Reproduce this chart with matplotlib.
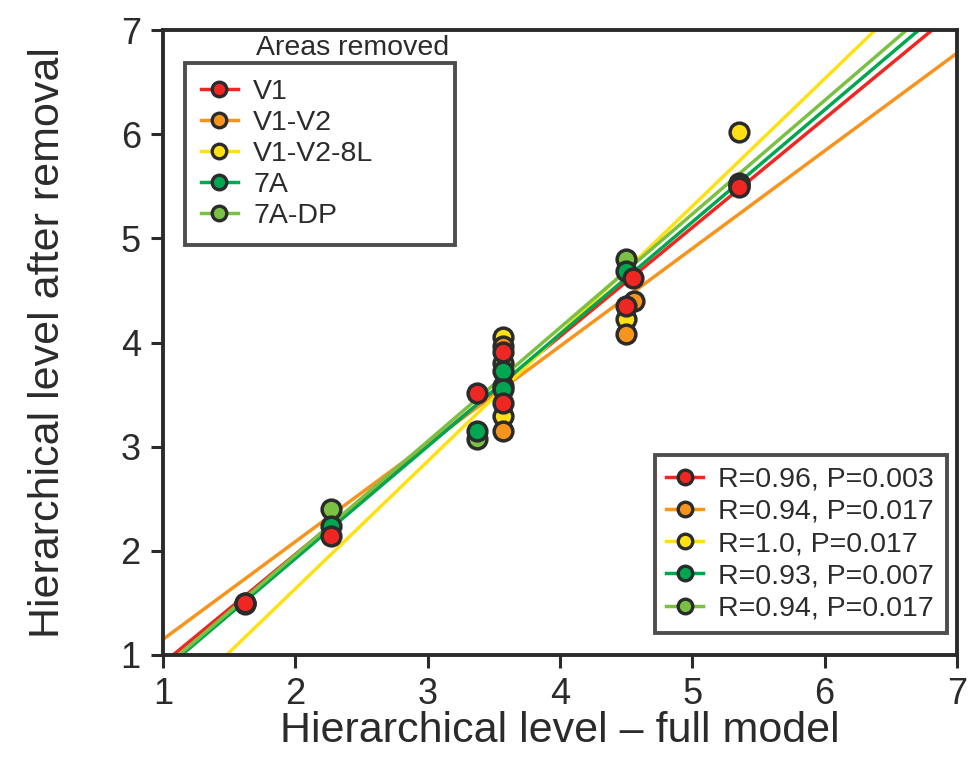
import matplotlib.pyplot as plt
from matplotlib.lines import Line2D
import numpy as np

plt.rcParams['font.family'] = ['Liberation Sans', 'DejaVu Sans']

# series: areas removed
names = ["V1", "V1-V2", "V1-V2-8L", "7A", "7A-DP"]
stats = ["R=0.96, P=0.003", "R=0.94, P=0.017", "R=1.0, P=0.017",
         "R=0.93, P=0.007", "R=0.94, P=0.017"]
colors = ["#ee2722", "#f7941d", "#ffe113", "#00a650", "#7ac143"]

# hierarchical level, full model (x) vs after removal (y)
x_v1 = [1.62, 2.27, 3.37, 3.57, 3.57, 4.50, 4.55, 5.35]
y_v1 = [1.50, 2.14, 3.52, 3.91, 3.42, 4.35, 4.62, 5.49]
x_v1v2 = [3.57, 3.57, 4.50, 4.56, 5.35]
y_v1v2 = [3.97, 3.15, 4.08, 4.40, 5.50]
x_v1v28l = [3.57, 3.57, 4.50, 5.35]
y_v1v28l = [4.05, 3.29, 4.23, 6.02]
x_7a = [1.62, 2.27, 3.37, 3.57, 3.57, 4.50, 5.35]
y_7a = [1.49, 2.24, 3.15, 3.73, 3.55, 4.69, 5.52]
x_7adp = [1.62, 2.27, 3.37, 3.57, 3.57, 4.50, 5.35]
y_7adp = [1.50, 2.40, 3.07, 3.80, 3.58, 4.80, 5.53]

# regression lines (slope, intercept)
slopes = [1.046, 0.938, 1.224, 1.077, 1.091]
intercepts = [-0.126, 0.212, -0.812, -0.228, -0.222]

xs = [x_v1, x_v1v2, x_v1v28l, x_7a, x_7adp]
ys = [y_v1, y_v1v2, y_v1v28l, y_7a, y_7adp]

edge = "#2b2b2b"

fig = plt.figure(figsize=(9.7, 7.58), dpi=100)
ax = fig.add_axes([163 / 970, 1 - 655 / 758, 794 / 970, 625 / 758])

xl = np.array([0.0, 8.0])
for i in range(5):
    ax.plot(xl, slopes[i] * xl + intercepts[i], color=colors[i], lw=2.5, zorder=2)

# drawing order so overlaps look like the original
order = [2, 4, 3, 1, 0]
for k, i in enumerate(order):
    ax.plot(xs[i], ys[i], 'o', ms=13.5, mfc=colors[i], mec=edge, mew=2.5,
            zorder=3 + k, clip_on=False)

ax.set_xlim(1, 7)
ax.set_ylim(1, 7)
ax.set_xticks(range(1, 8))
ax.set_yticks(range(1, 8))
for s in ax.spines.values():
    s.set_linewidth(2.8)
    s.set_color("#2b2b2b")
ax.tick_params(direction='out', length=9, width=2.2, color="#2b2b2b",
               labelsize=26, pad=7, labelcolor="#2b2b2b")
ax.set_xlabel("Hierarchical level \u2013 full model", fontsize=31,
              color="#2b2b2b", labelpad=-1)
ax.set_ylabel("Hierarchical level after removal", fontsize=31,
              color="#2b2b2b", labelpad=38)

handles = [Line2D([], [], color=c, lw=2.5, marker='o', ms=10.5, mfc=c,
                  mec=edge, mew=2.4) for c in colors]

leg1 = ax.legend(handles, names, loc='upper left',
                 bbox_to_anchor=(185 / 970, 1 - 245 / 758, 270 / 970, 182 / 758),
                 bbox_transform=fig.transFigure, mode='expand', fontsize=20.5,
                 frameon=True, fancybox=False, borderaxespad=0,
                 handlelength=1.3, handletextpad=0.55, labelspacing=0.18,
                 borderpad=0.55)
leg1.get_frame().set_edgecolor("#222222")
leg1.get_frame().set_linewidth(2.8)
for t in leg1.get_texts():
    t.set_color("#2b2b2b")
ax.add_artist(leg1)

leg2 = ax.legend(handles, stats, loc='lower right',
                 bbox_to_anchor=(655 / 970, 1 - 633 / 758, 292 / 970, 178 / 758),
                 bbox_transform=fig.transFigure, mode='expand', fontsize=20.5,
                 frameon=True, fancybox=False, borderaxespad=0,
                 handlelength=1.3, handletextpad=0.5, labelspacing=0.22,
                 borderpad=0.4)
leg2.get_frame().set_edgecolor("#222222")
leg2.get_frame().set_linewidth(2.8)
for t in leg2.get_texts():
    t.set_color("#2b2b2b")

fig.text(353 / 970, 1 - 48 / 758, "Areas removed", fontsize=20.5,
         ha='center', va='center', color="#2b2b2b")

fig.savefig("out.png", dpi=100)
